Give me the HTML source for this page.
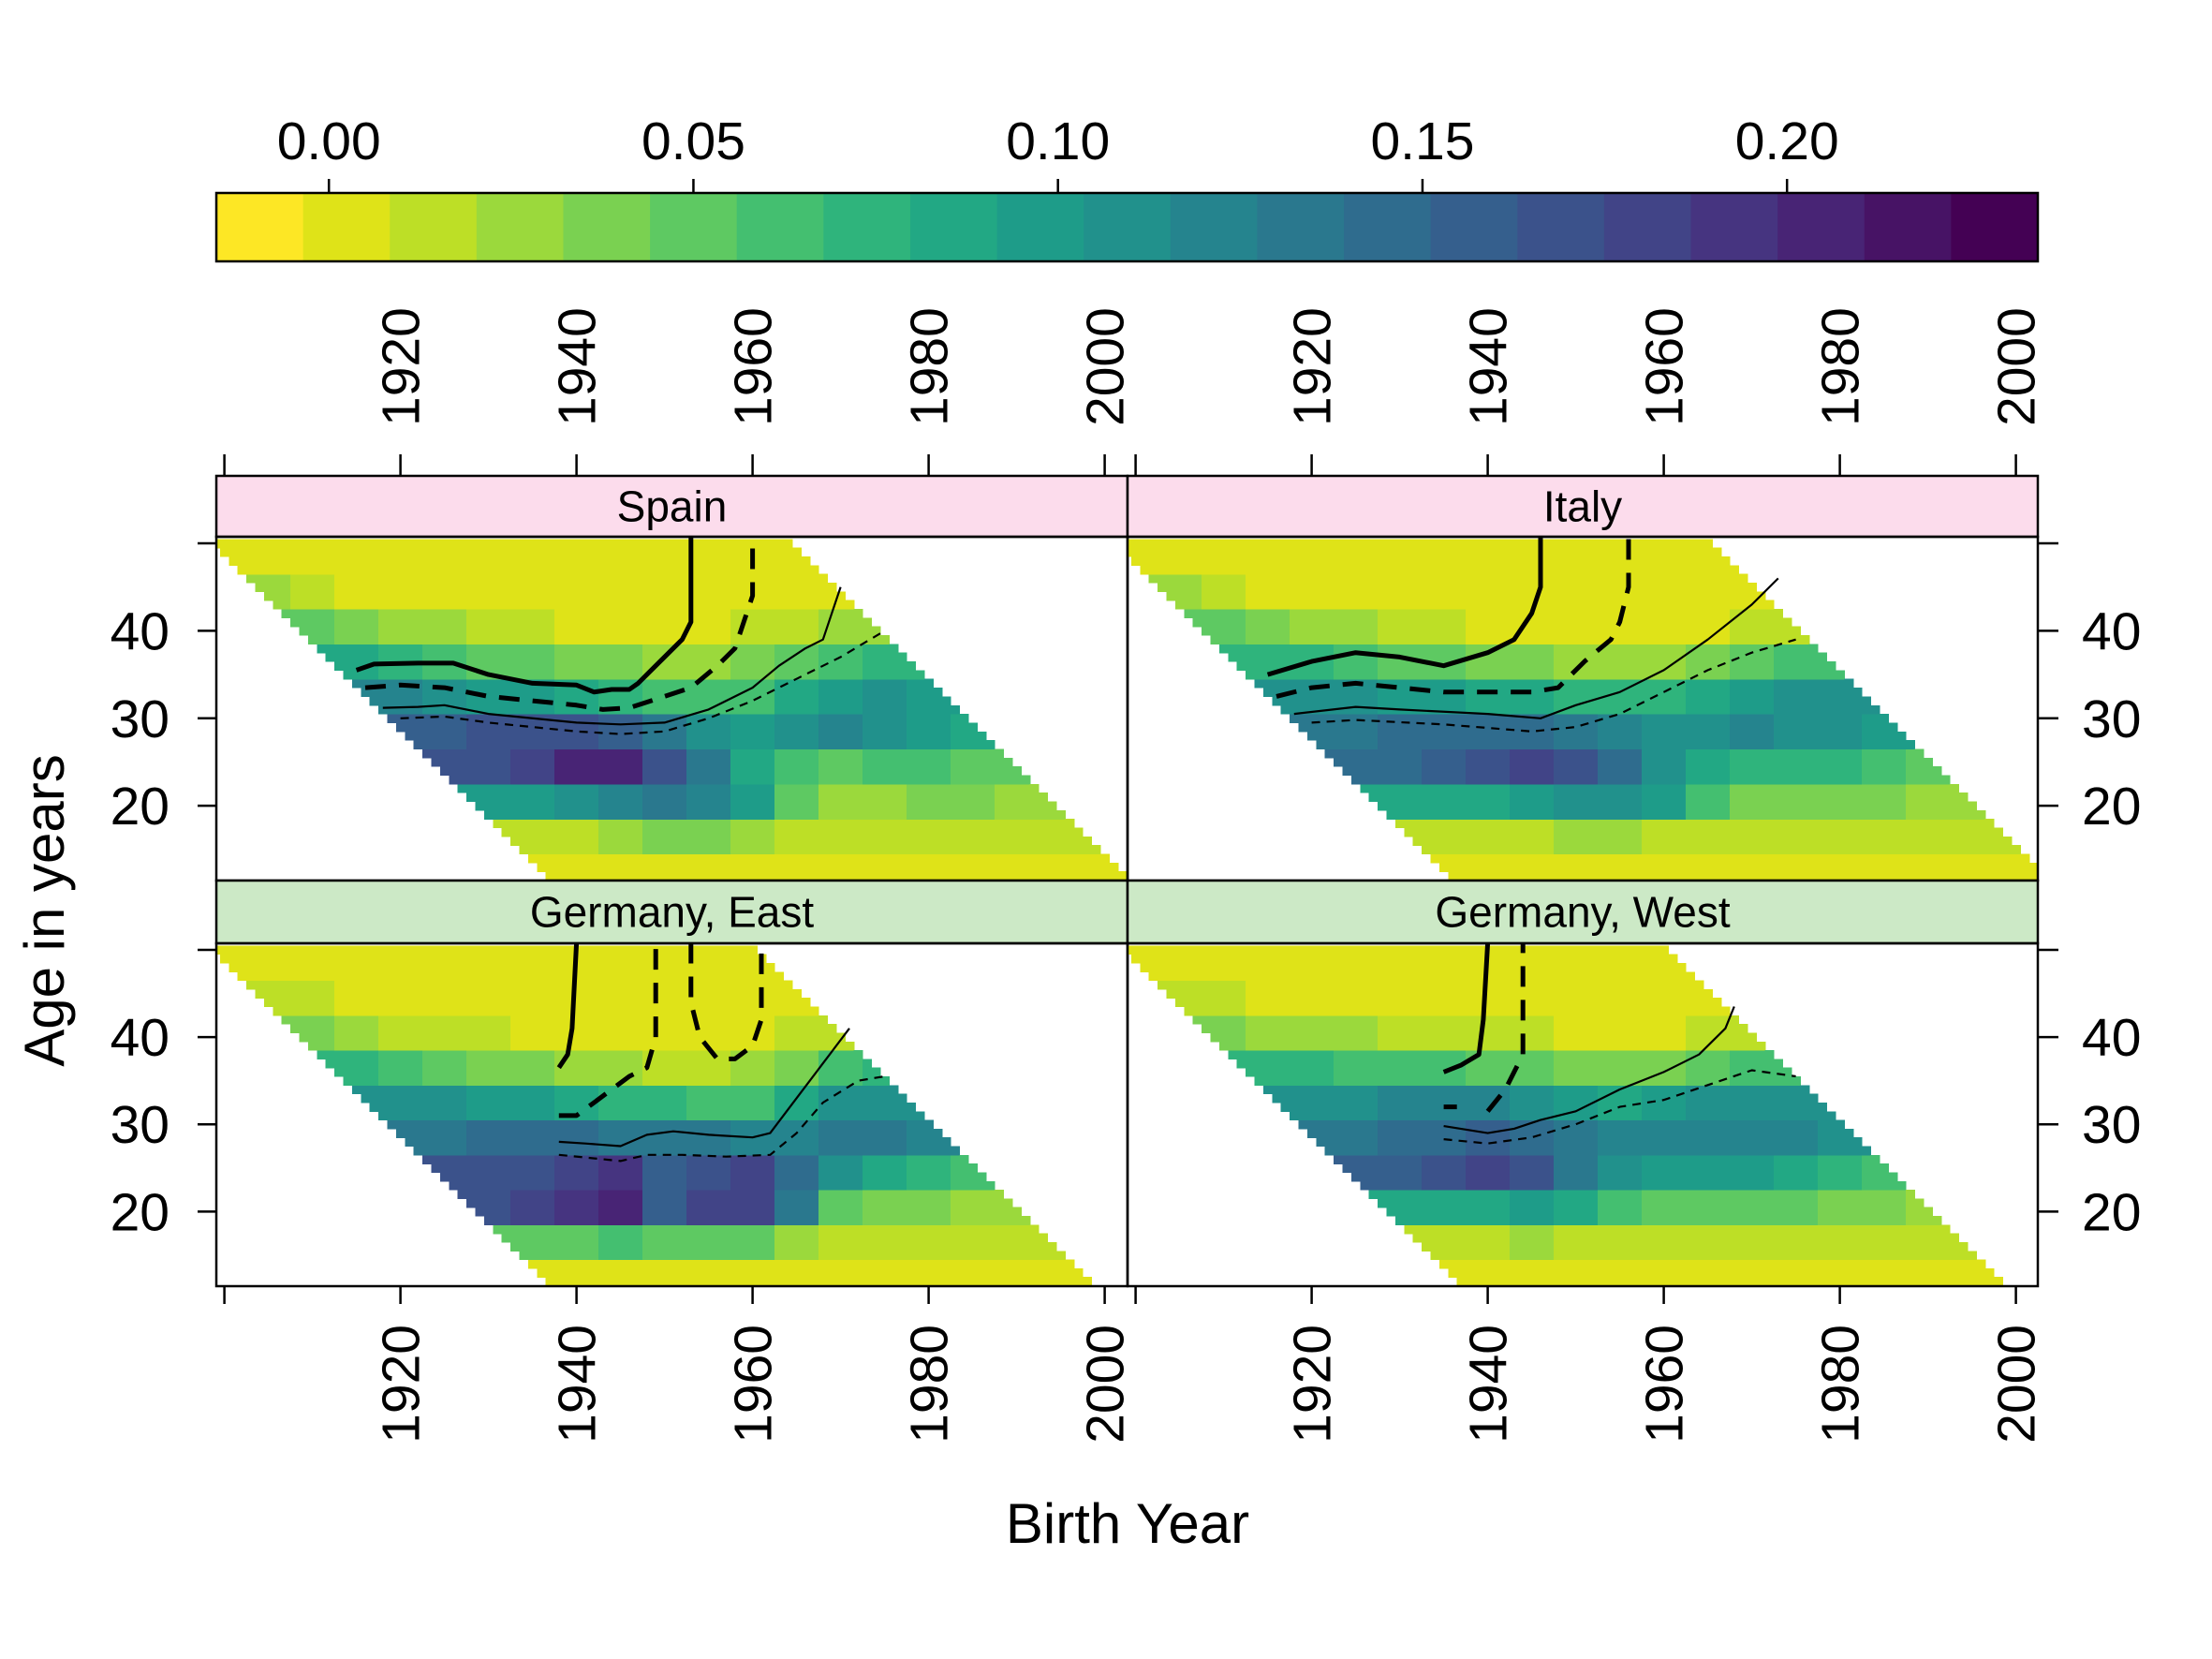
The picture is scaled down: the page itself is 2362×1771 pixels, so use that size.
<!DOCTYPE html>
<html><head><meta charset="utf-8"><style>
html,body{margin:0;padding:0;background:#fff;}
svg{display:block;font-family:"Liberation Sans",sans-serif;}
</style></head><body>
<svg id="chart" width="2362" height="1771" viewBox="0 0 2362 1771" xmlns="http://www.w3.org/2000/svg">
<rect x="0" y="0" width="2362" height="1771" fill="#fff"/>
<g id="colorkey"></g>
<g id="panels"></g>
<g id="axes"></g>
<text x="1204" y="1647" font-size="60" text-anchor="middle">Birth Year</text>
<text transform="translate(68,972) rotate(-90)" font-size="60" text-anchor="middle">Age in years</text>
</svg>
<script>
// ----- data -----
const keyTicks = [0.00, 0.05, 0.10, 0.15, 0.20];
const keyTickLabels = ["0.00", "0.05", "0.10", "0.15", "0.20"];
const gridYears = [1900,1905,1910,1915,1920,1925,1930,1935,1940,1945,1950,1955,1960,1965,1970,1975,1980,1985,1990,1995,2000];
const gridAges = [48,44,40,36,32,28,24,20,16,12];
const yearTicks = [1900,1920,1940,1960,1980,2000];
const yearTickLabels = ["","1920","1940","1960","1980","2000"];
const ageTicks = [20,30,40,50];
const ageTickLabels = ["20","30","40",""];
const panelNames = ["Spain","Italy","Germany, East","Germany, West"];
const periodMin = [1949,1948,1949,1949];
const periodMax = [2014,2015,2010,2010];
// colour-key level (1..20) read per cell, rows = gridAges, cols = gridYears
const spainLevels = [
[1,1,1,1,1,1,1,1,1,1,1,1,1,1,1,1,1,1,1,1,1],
[3,3,2,1,1,1,1,1,1,1,1,1,1,1,1,1,1,1,1,1,1],
[5,5,5,4,3,3,2,2,1,1,1,1,2,2,3,3,3,3,3,3,3],
[8,8,8,8,7,6,5,5,4,4,3,3,4,5,6,7,7,7,7,7,7],
[11,11,11,11,11,10,9,9,8,7,6,6,6,8,9,10,9,9,9,9,9],
[14,14,14,14,14,14,15,15,15,14,12,10,9,10,11,10,9,8,8,8,8],
[15,15,15,15,15,15,15,16,18,18,15,12,8,6,5,6,6,5,5,5,5],
[9,9,9,9,9,9,9,9,10,11,12,11,9,5,3,3,4,4,3,3,3],
[2,2,2,2,2,2,2,2,2,3,4,4,3,2,2,2,2,2,2,2,2],
[1,1,1,1,1,1,1,1,1,1,1,1,1,1,1,1,1,1,1,1,1]];
const italyLevels = [
[1,1,1,1,1,1,1,1,1,1,1,1,1,1,1,1,1,1,1,1,1],
[3,3,2,1,1,1,1,1,1,1,1,1,1,1,1,1,1,1,1,1,1],
[5,5,5,4,3,3,2,2,1,1,1,1,1,1,2,2,2,2,2,2,2],
[7,7,7,7,7,6,5,5,4,4,3,3,3,4,5,6,6,6,6,6,6],
[10,10,10,10,10,10,9,9,8,8,7,7,7,8,9,10,10,10,10,10,10],
[12,12,12,12,12,12,13,13,13,13,12,11,10,10,11,10,10,9,9,9,9],
[13,13,13,13,13,13,13,14,15,16,15,13,10,8,7,7,7,6,5,5,5],
[8,8,8,8,8,8,8,8,8,9,10,10,9,6,4,4,4,4,3,3,3],
[2,2,2,2,2,2,2,2,2,2,3,3,2,2,2,2,2,2,2,2,2],
[1,1,1,1,1,1,1,1,1,1,1,1,1,1,1,1,1,1,1,1,1]];
const eastLevels = [
[1,1,1,1,1,1,1,1,1,1,1,1,1,1,1,1,1,1,1,1,1],
[2,2,2,1,1,1,1,1,1,1,1,1,1,1,1,1,1,1,1,1,1],
[4,4,4,3,2,2,2,1,1,1,1,1,1,2,2,2,2,2,2,2,2],
[7,7,7,7,6,5,4,4,3,3,2,2,3,4,6,7,7,7,7,7,7],
[10,10,10,10,10,10,9,9,8,7,7,6,6,8,10,10,10,10,10,10,10],
[12,12,12,12,12,12,13,13,13,12,12,12,11,11,12,12,11,11,11,11,11],
[15,15,15,15,15,15,15,15,16,17,14,15,16,13,10,8,7,6,6,6,6],
[15,15,15,15,15,15,15,16,17,18,14,16,16,12,5,4,4,3,3,3,3],
[5,5,5,5,5,5,5,5,5,6,5,5,5,3,2,2,2,2,2,2,2],
[1,1,1,1,1,1,1,1,1,1,1,1,1,1,1,1,1,1,1,1,1]];
const westLevels = [
[1,1,1,1,1,1,1,1,1,1,1,1,1,1,1,1,1,1,1,1,1],
[2,2,2,1,1,1,1,1,1,1,1,1,1,1,1,1,1,1,1,1,1],
[4,4,4,3,3,3,2,2,2,2,1,1,1,2,2,2,2,2,2,2,2],
[7,7,7,7,7,6,6,6,5,5,4,4,4,5,6,6,6,6,6,6,6],
[10,10,10,10,10,10,11,11,11,10,9,8,9,10,10,10,10,10,10,10,10],
[12,12,12,12,12,12,13,13,14,13,12,11,11,11,11,11,10,10,10,10,10],
[14,14,14,14,14,14,14,15,16,15,12,10,9,9,9,8,7,6,5,5,5],
[8,8,8,8,8,8,8,8,8,9,8,6,5,5,5,5,4,4,3,3,3],
[2,2,2,2,2,2,2,2,2,3,2,2,2,2,2,2,2,2,2,2,2],
[1,1,1,1,1,1,1,1,1,1,1,1,1,1,1,1,1,1,1,1,1]];
// contour lines: years / ages
const spainThickSolidYears = [1915,1917,1922,1926,1930,1935,1940,1942,1944,1946,1947,1949,1952,1953,1953];
const spainThickSolidAges  = [35.5,36.2,36.3,36.3,35,34,33.8,33,33.3,33.3,34,36,39,41,50.8];
const spainThickDashYears = [1916,1920,1925,1930,1935,1940,1943,1946,1950,1953,1956,1958,1959,1960,1960];
const spainThickDashAges  = [33.5,33.8,33.5,32.5,32,31.5,31,31.2,32.5,33.5,36,38,41,44,50.8];
const spainThinSolidYears = [1918,1922,1925,1930,1940,1945,1950,1955,1960,1963,1966,1968,1969,1970];
const spainThinSolidAges  = [31.2,31.3,31.5,30.5,29.5,29.3,29.5,31,33.5,36,38,39,42,45];
const spainThinDashYears = [1920,1925,1930,1940,1945,1950,1955,1960,1965,1970,1975];
const spainThinDashAges  = [30,30.2,29.5,28.5,28.2,28.5,30,32,34.5,37,40];
const italyThickSolidYears = [1915,1920,1925,1930,1935,1940,1943,1945,1946,1946];
const italyThickSolidAges  = [35,36.5,37.5,37,36,37.5,39,42,45,50.8];
const italyThickDashYears = [1916,1920,1925,1930,1935,1940,1945,1948,1951,1954,1955,1956,1956];
const italyThickDashAges  = [32.5,33.5,34,33.5,33,33,33,33.5,36.5,39,41,45,50.8];
const italyThinSolidYears = [1918,1925,1930,1940,1946,1950,1955,1960,1965,1970,1973];
const italyThinSolidAges  = [30.5,31.3,31,30.5,30,31.5,33,35.5,39,43,46];
const italyThinDashYears = [1920,1925,1935,1945,1950,1955,1960,1965,1970,1975];
const italyThinDashAges  = [29.5,29.8,29.3,28.5,29,30.5,33,35.5,37.5,39];
const eastThickSolidYears = [1938,1939,1939.5,1940];
const eastThickSolidAges  = [36.5,38,41,50.8];
const eastThickDashYears = [1938,1940,1942,1944,1946,1948,1949,1949,1949];
const eastThickDashAges  = [31,31,32.5,34,35.5,36.5,40,45,50.8];
const eastThickDash2Years = [1953,1953,1954,1956,1958,1960,1961,1961];
const eastThickDash2Ages  = [50.8,44,40,37.5,37.5,39,42,50.8];
const eastThinSolidYears = [1938,1941,1945,1948,1951,1955,1960,1962,1965,1968,1971];
const eastThinSolidAges  = [28,27.8,27.5,28.8,29.2,28.8,28.5,29,33,37,41];
const eastThinDashYears = [1938,1941,1945,1948,1952,1957,1962,1965,1968,1972,1975];
const eastThinDashAges  = [26.5,26.2,25.8,26.5,26.5,26.3,26.5,29,32.5,35,35.5];
const westThickSolidYears = [1935,1937,1939,1939.5,1940];
const westThickSolidAges  = [36,36.8,38,42,50.8];
const westThickDashYears = [1935,1936.5];
const westThickDashAges  = [32,32];
const westThickDash2Years = [1940,1942,1944,1944,1944];
const westThickDash2Ages  = [31.5,34,38,43,50.8];
const westThinSolidYears = [1935,1940,1943,1946,1950,1955,1960,1964,1967,1968];
const westThinSolidAges  = [29.8,29,29.5,30.5,31.5,34,36,38,41,43.5];
const westThinDashYears = [1935,1940,1945,1950,1955,1960,1965,1970,1975];
const westThinDashAges  = [28.3,27.8,28.5,30,32,32.8,34.5,36.2,35.5];

// ----- rendering -----
const NS = "http://www.w3.org/2000/svg";
const viridis = ["#440154","#471365","#482475","#463480","#414487","#3b528b","#355f8d","#2f6c8e","#2a788e","#25848e","#21918c","#1e9c89","#22a884","#2fb47c","#44bf70","#5ec962","#7ad151","#9bd93c","#bddf26","#dfe318","#fde725"];
function levelColor(k){ k=Math.max(0,Math.min(20,Math.round(k))); return viridis[20-k]; }
function mk(tag, attrs, parent){ const e=document.createElementNS(NS,tag); for(const k in attrs) e.setAttribute(k,attrs[k]); parent.appendChild(e); return e; }

// color key
const key = document.getElementById('colorkey');
const keyX0=231, keyX1=2176, keyY0=206, keyY1=279, keyMin=-0.01544, keyMax=0.2344;
const keyX = v => keyX0 + (v-keyMin)/(keyMax-keyMin)*(keyX1-keyX0);
const binW = (keyX1-keyX0)/21;
for(let k=0;k<21;k++){
  const r = mk('rect',{x:keyX0+k*binW,y:keyY0,width:binW+0.6,height:keyY1-keyY0,fill:levelColor(k)},key);
  
  
}
const kb = mk('rect',{x:keyX0,y:keyY0,width:keyX1-keyX0,height:keyY1-keyY0,fill:'none',stroke:'#000','stroke-width':2.5},key);


keyTicks.forEach((v,i)=>{
  const x=keyX(v);
  const t=mk('line',{x1:x,x2:x,y1:191,y2:keyY0,stroke:'#000','stroke-width':2.5},key);
  
  
  const l=mk('text',{x:x,y:170,'font-size':57,'text-anchor':'middle'},key);
  l.textContent=keyTickLabels[i];
  
  
});

// panels
const panelsG=document.getElementById('panels');
const axesG=document.getElementById('axes');
const levels=[spainLevels,italyLevels,eastLevels,westLevels];
const lines=[
 [[spainThickSolidYears,spainThickSolidAges,'ts'],[spainThickDashYears,spainThickDashAges,'td'],[spainThinSolidYears,spainThinSolidAges,'ns'],[spainThinDashYears,spainThinDashAges,'nd']],
 [[italyThickSolidYears,italyThickSolidAges,'ts'],[italyThickDashYears,italyThickDashAges,'td'],[italyThinSolidYears,italyThinSolidAges,'ns'],[italyThinDashYears,italyThinDashAges,'nd']],
 [[eastThickSolidYears,eastThickSolidAges,'ts'],[eastThickDashYears,eastThickDashAges,'td'],[eastThickDash2Years,eastThickDash2Ages,'td'],[eastThinSolidYears,eastThinSolidAges,'ns'],[eastThinDashYears,eastThinDashAges,'nd']],
 [[westThickSolidYears,westThickSolidAges,'ts'],[westThickDashYears,westThickDashAges,'td'],[westThickDash2Years,westThickDash2Ages,'td'],[westThinSolidYears,westThinSolidAges,'ns'],[westThinDashYears,westThinDashAges,'nd']]
];
const styles={ts:{w:5,d:''},td:{w:5,d:'22 14'},ns:{w:2.2,d:''},nd:{w:2.2,d:'9 7'}};
const boxes=[
 {x0:231,x1:1204,y0:573,y1:940,s0:508,fill:'#fcdcec'},
 {x0:1204,x1:2176,y0:573,y1:940,s0:508,fill:'#fcdcec'},
 {x0:231,x1:1204,y0:1007,y1:1373,s0:940,fill:'#cce9c6'},
 {x0:1204,x1:2176,y0:1007,y1:1373,s0:940,fill:'#cce9c6'}];
const yLo=11.45, yHi=50.75;
boxes.forEach((b,p)=>{
  const xS = yr => b.x0 + 8.6 + (yr-1900)*9.40;
  const yS = a => b.y1 - (a-yLo)/(yHi-yLo)*(b.y1-b.y0);
  const g=mk('g',{},panelsG);
  
  
  const cp=mk('clipPath',{id:'clip'+p},g);
  mk('rect',{x:b.x0,y:b.y0,width:b.x1-b.x0,height:b.y1-b.y0},cp);
  const cells=mk('g',{'clip-path':'url(#clip'+p+')','shape-rendering':'crispEdges'},g);
  
  
  const L=levels[p];
  for(let yr=1896; yr<=2004; yr++){
    for(let a=12; a<=50; a++){
      const per=yr+a;
      if(per<periodMin[p]||per>periodMax[p]) continue;
      let ci=Math.round((yr-gridYears[0])/5); ci=Math.max(0,Math.min(gridYears.length-1,ci));
      let ri=Math.round((gridAges[0]-a)/4); ri=Math.max(0,Math.min(gridAges.length-1,ri));
      const x=xS(yr-0.5), y=yS(a+0.5);
      const c=mk('rect',{x:x,y:y,width:xS(yr+0.5)-x+0.6,height:yS(a-0.5)-y+0.6,fill:levelColor(L[ri][ci])},cells);
      
      
    }
  }
  const lg=mk('g',{'clip-path':'url(#clip'+p+')',fill:'none',stroke:'#000','stroke-linejoin':'round'},g);
  
  
  lines[p].forEach(([ys,as,st])=>{
    const d=ys.map((yr,i)=>(i?'L':'M')+xS(yr).toFixed(1)+' '+yS(as[i]).toFixed(1)).join(' ');
    const pa=mk('path',{d:d,'stroke-width':styles[st].w},lg);
    if(styles[st].d) pa.setAttribute('stroke-dasharray',styles[st].d);
    
    
  });
  const sr=mk('rect',{x:b.x0,y:b.s0,width:b.x1-b.x0,height:b.y0-b.s0,fill:b.fill,stroke:'#000','stroke-width':2.5},g);
  
  
  const st=mk('text',{x:(b.x0+b.x1)/2,y:b.s0+(b.y0-b.s0)/2+16,'font-size':46,'text-anchor':'middle'},g);
  st.textContent=panelNames[p];
  
  
  const bx=mk('rect',{x:b.x0,y:b.y0,width:b.x1-b.x0,height:b.y1-b.y0,fill:'none',stroke:'#000','stroke-width':2.5},g);
  
  
  const left = (p%2===0);
  ageTicks.forEach((a,i)=>{
    const y=yS(a);
    const tx1 = left? b.x0-20 : b.x1, tx2 = left? b.x0 : b.x1+22;
    const t=mk('line',{x1:tx1,x2:tx2,y1:y,y2:y,stroke:'#000','stroke-width':2.5},axesG);
    
    
    if(ageTickLabels[i]){
      const l=mk('text',{x:left?181:2223,y:y+20,'font-size':57,'text-anchor':left?'end':'start'},axesG);
      l.textContent=ageTickLabels[i];
      
      
    }
  });
  const top = (p<2);
  yearTicks.forEach((yr,i)=>{
    const x=xS(yr);
    const t=mk('line',{x1:x,x2:x,y1:top?485:1373,y2:top?508:1392,stroke:'#000','stroke-width':2.5},axesG);
    
    
    if(yearTickLabels[i]){
      const ty = top?455:1414;
      const l=mk('text',{transform:'translate('+(x+20)+','+ty+') rotate(-90)','font-size':57,'text-anchor':top?'start':'end'},axesG);
      l.textContent=yearTickLabels[i];
      
      
    }
  });
});
</script>
</body></html>
